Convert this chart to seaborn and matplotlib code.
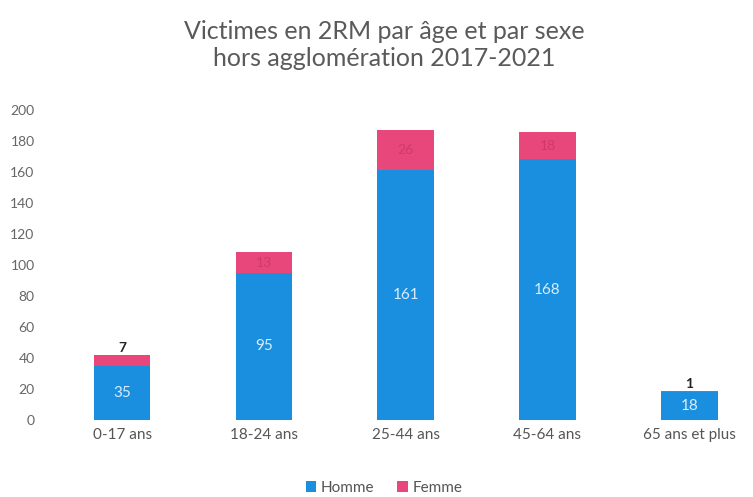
import matplotlib
matplotlib.use("Agg")
import matplotlib.pyplot as plt
import seaborn as sns
import pandas as pd
import numpy as np

categories = ["0-17 ans", "18-24 ans", "25-44 ans", "45-64 ans", "65 ans et plus"]
homme = [35, 95, 161, 168, 18]
femme = [7, 13, 26, 18, 1]
yticks = [0, 20, 40, 60, 80, 100, 120, 140, 160, 180, 200]

sns.set_theme(style="white")
plt.rcParams['font.family'] = ['Lato', 'DejaVu Sans']

c_h = "#1a8fe0"
c_f = "#e8477c"

fig = plt.figure(figsize=(7.53, 4.97), dpi=100)
ax = fig.add_axes([0.068, 0.155, 0.932, 0.624])

df = pd.DataFrame({"cat": categories, "Homme": homme, "Femme": femme})
df["Total"] = df["Homme"] + df["Femme"]

sns.barplot(data=df, x="cat", y="Total", color=c_f, width=0.4, ax=ax, saturation=1,
            label="Femme", linewidth=0)
sns.barplot(data=df, x="cat", y="Homme", color=c_h, width=0.4, ax=ax, saturation=1,
            label="Homme", linewidth=0)

for i, (h, f) in enumerate(zip(homme, femme)):
    ax.text(i, h / 2, str(h), ha="center", va="center", color="#d8eefc", fontsize=11)
    if f >= 10:
        ax.text(i, h + f / 2, str(f), ha="center", va="center", color="#d03a6a", fontsize=10)
    else:
        ax.text(i, h + f + 0.5, str(f), ha="center", va="bottom", color="#222222", fontsize=10, fontweight="bold")

ax.set_ylim(0, 200)
ax.set_xlim(-0.5, 4.45)
ax.set_yticks(yticks)
ax.set_yticklabels([str(t) for t in yticks], color="#666666", fontsize=10)
ax.tick_params(axis="x", colors="#555555", labelsize=11, length=0, pad=6)
ax.tick_params(axis="y", length=0, pad=12)
ax.set_xlabel("")
ax.set_ylabel("")
for s in ax.spines.values():
    s.set_visible(False)

handles, labels = ax.get_legend_handles_labels()
order = [labels.index("Homme"), labels.index("Femme")]
fig.legend([handles[k] for k in order], [labels[k] for k in order], loc="center",
           bbox_to_anchor=(0.51, 0.018), ncol=2, frameon=False, fontsize=11,
           handlelength=0.7, handleheight=0.7, handletextpad=0.3, columnspacing=1.5,
           labelcolor="#555555")
if ax.get_legend():
    ax.get_legend().remove()

fig.text(0.51, 0.909, "Victimes en 2RM par âge et par sexe\nhors agglomération 2017-2021",
         ha="center", va="center", fontsize=18, color="#5a5a5a", linespacing=1.2)

fig.savefig("out.png", dpi=100)
